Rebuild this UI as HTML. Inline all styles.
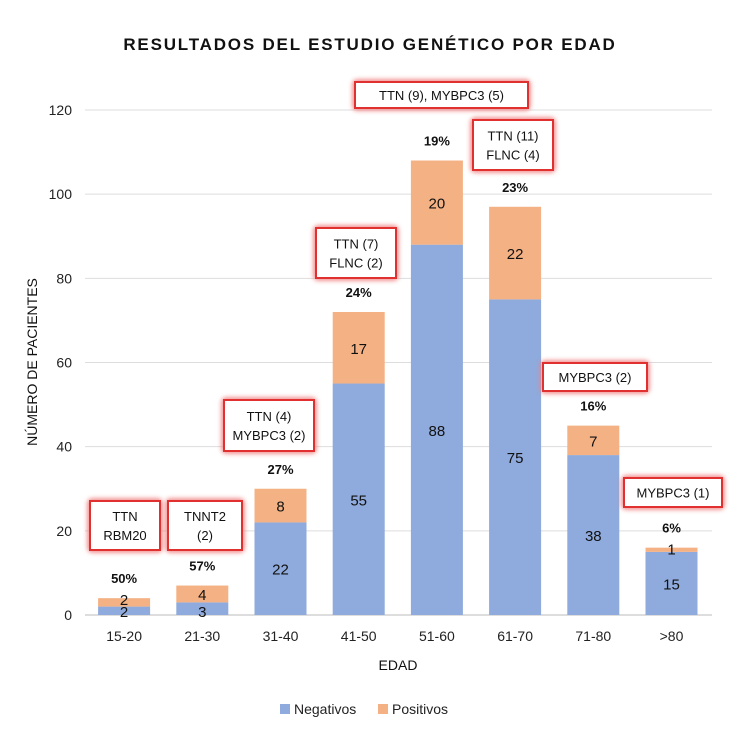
<!DOCTYPE html>
<html><head><meta charset="utf-8"><style>
body{margin:0;background:#fff;}
svg{font-family:"Liberation Sans",sans-serif;}
</style></head><body>
<svg id="c" width="750" height="749" viewBox="0 0 750 749" xmlns="http://www.w3.org/2000/svg">
<defs><filter id="glow" x="-20%" y="-30%" width="140%" height="160%"><feGaussianBlur stdDeviation="2.5"/></filter></defs>
<text x="370" y="50" text-anchor="middle" font-size="17" font-weight="bold" letter-spacing="1.8" fill="#111">RESULTADOS DEL ESTUDIO GENÉTICO POR EDAD</text>
<g id="grid"></g><g id="bars"></g><g id="labels"></g><g id="notes"></g>
<text transform="translate(37,362) rotate(-90)" text-anchor="middle" font-size="14" fill="#111">NÚMERO DE PACIENTES</text>
<text x="398" y="670" text-anchor="middle" font-size="14" fill="#111">EDAD</text>
<g>
<rect x="280" y="704" width="10" height="10" fill="#8faadc"/>
<text x="294" y="714" font-size="14" fill="#222">Negativos</text>
<rect x="378" y="704" width="10" height="10" fill="#f4b183"/>
<text x="392" y="714" font-size="14" fill="#222">Positivos</text>
</g>
</svg>
<script>
const categories=["15-20","21-30","31-40","41-50","51-60","61-70","71-80",">80"];
const negativos=[2,3,22,55,88,75,38,15];
const positivos=[2,4,8,17,20,22,7,1];
const percents=["50%","57%","27%","24%","19%","23%","16%","6%"];
const yTicks=[0,20,40,60,80,100,120];
const notes=[["TTN","RBM20"],["TNNT2","(2)"],["TTN (4)","MYBPC3 (2)"],["TTN (7)","FLNC (2)"],["TTN (9), MYBPC3 (5)"],["TTN (11)","FLNC (4)"],["MYBPC3 (2)"],["MYBPC3 (1)"]];
const noteBoxes=[[90,501,70,49],[168,501,74,49],[224,400,90,51],[316,228,80,50],[355,82,173,26],[473,120,80,50],[543,363,104,28],[624,478,98,29]];

const NS="http://www.w3.org/2000/svg";
const y=v=>615-v*(505/120);
const x0=85,step=78.2;
const xc=i=>x0+step*i+step/2;
const bw=52;
function el(t,a,p,txt){const e=document.createElementNS(NS,t);for(const k in a)e.setAttribute(k,a[k]);if(txt!==undefined)e.textContent=txt;p.appendChild(e);return e;}
const G=document.getElementById('grid'),B=document.getElementById('bars'),L=document.getElementById('labels'),N=document.getElementById('notes');
yTicks.forEach(t=>{
 const l=el('line',{x1:x0,x2:712,y1:y(t),y2:y(t),stroke:t===0?'#bbb':'#ddd','stroke-width':1},G);
 
 
 const tx=el('text',{x:72,y:y(t)+5,'text-anchor':'end','font-size':14,fill:'#222'},G,String(t));
 
 
});
categories.forEach((c,i)=>{
 const cx=xc(i),n=negativos[i],p=positivos[i];
 const r1=el('rect',{x:cx-bw/2,y:y(n),width:bw,height:y(0)-y(n),fill:'#8faadc'},B);
 
 
 const r2=el('rect',{x:cx-bw/2,y:y(n+p),width:bw,height:y(n)-y(n+p),fill:'#f4b183'},B);
 
 
 const t1=el('text',{x:cx,y:n<5?y(0)+2:(y(0)+y(n))/2+6,'text-anchor':'middle','font-size':15,fill:'#111'},L,String(n));
 
 
 const t2=el('text',{x:cx,y:p<3?y(n+p)+7:(y(n)+y(n+p))/2+6,'text-anchor':'middle','font-size':15,fill:'#111'},L,String(p));
 
 
 const t3=el('text',{x:cx,y:y(n+p)-15,'text-anchor':'middle','font-size':13,'font-weight':'bold',fill:'#111'},L,percents[i]);
 
 
 const t4=el('text',{x:cx,y:641,'text-anchor':'middle','font-size':14,fill:'#222'},L,c);
 
 
 const [bx,by,w,h]=noteBoxes[i];
 const g=el('g',{},N);
 
 
 el('rect',{x:bx,y:by,width:w,height:h,rx:2,fill:'none',stroke:'#f08080','stroke-width':5,filter:'url(#glow)'},g);
 el('rect',{x:bx,y:by,width:w,height:h,fill:'#fff',stroke:'#e03030','stroke-width':2},g);
 const lines=notes[i];
 lines.forEach((s,k)=>{
  const ty=by+h/2+5+(k-(lines.length-1)/2)*19;
  el('text',{x:bx+w/2,y:ty,'text-anchor':'middle','font-size':13,fill:'#111'},g,s);
 });
});
</script>
</body></html>
